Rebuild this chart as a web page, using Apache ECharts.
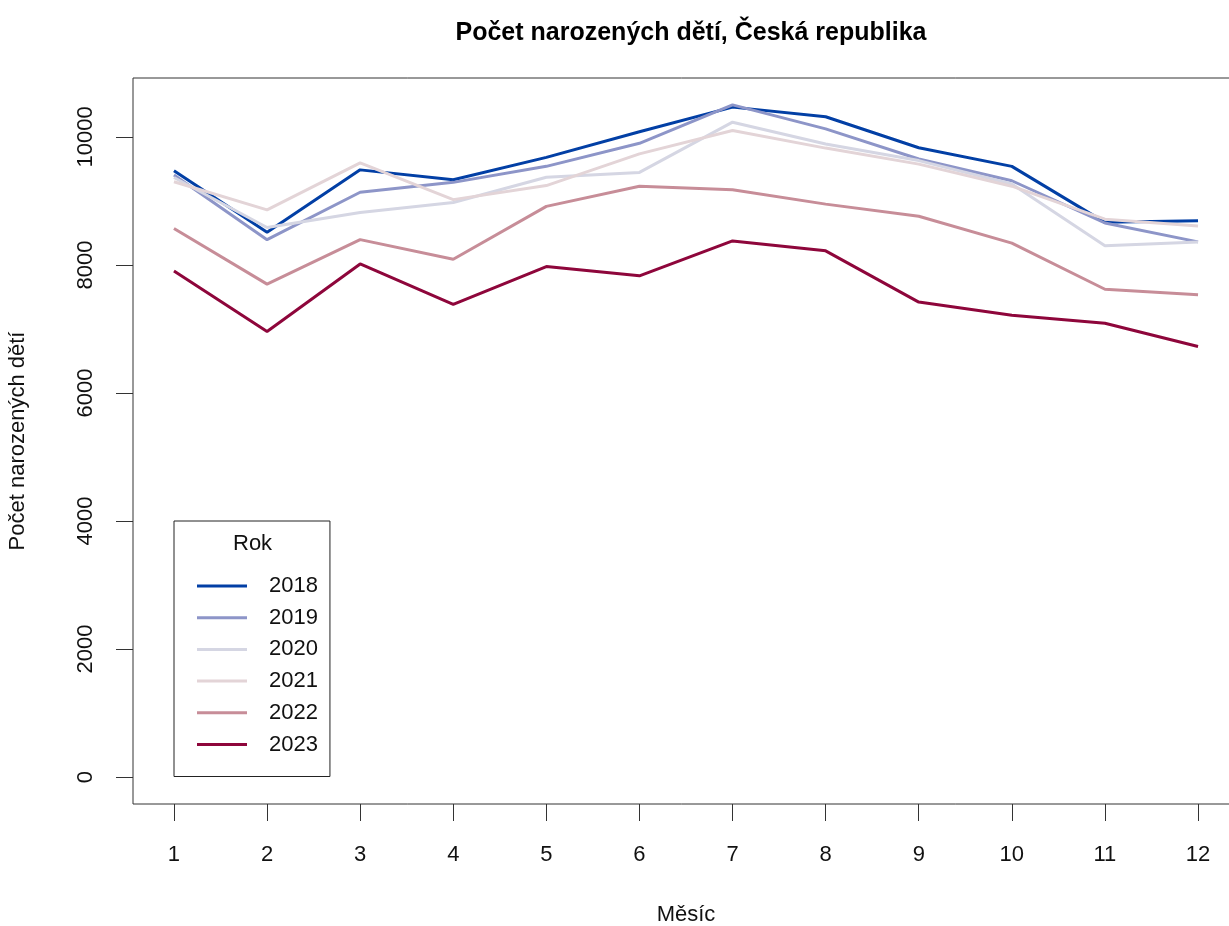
<!DOCTYPE html>
<html lang="cs">
<head>
<meta charset="UTF-8">
<title>Počet narozených dětí, Česká republika</title>
<style>
  html, body { margin: 0; padding: 0; background: #fff; }
  #container { width: 1229px; height: 926px; }
</style>
</head>
<body>
<div id="container"></div>
<script src="https://cdn.jsdelivr.net/npm/echarts@6/dist/echarts.min.js"></script>
<script>
// data
var months = [1, 2, 3, 4, 5, 6, 7, 8, 9, 10, 11, 12];
var years = ['2018', '2019', '2020', '2021', '2022', '2023'];
var births2018 = [9470, 8510, 9485, 9330, 9680, 10080, 10465, 10315, 9830, 9540, 8665, 8690];
var births2019 = [9405, 8395, 9135, 9290, 9540, 9900, 10500, 10125, 9655, 9315, 8655, 8360];
var births2020 = [9365, 8585, 8820, 8975, 9370, 9445, 10230, 9890, 9630, 9265, 8300, 8360];
var births2021 = [9300, 8860, 9595, 9020, 9240, 9735, 10100, 9825, 9575, 9230, 8715, 8610];
var births2022 = [8570, 7700, 8395, 8090, 8915, 9230, 9175, 8950, 8760, 8340, 7620, 7535];
var births2023 = [7905, 6960, 8015, 7385, 7975, 7830, 8375, 8220, 7420, 7215, 7090, 6725];
var yTicks = [0, 2000, 4000, 6000, 8000, 10000];
var colors = ['#023FA5', '#8D95C8', '#D5D6E3', '#E3D4D7', '#C78D98', '#8E063B'];

var allSeries = [births2018, births2019, births2020, births2021, births2022, births2023];
var fontFamily = "'Liberation Sans', Arial, sans-serif";

var chart = echarts.init(document.getElementById('container'));

var series = [];
for (var i = 0; i < years.length; i++) {
  var pts = [];
  for (var j = 0; j < months.length; j++) {
    pts.push([months[j], allSeries[i][j]]);
  }
  series.push({
    name: years[i],
    type: 'line',
    data: pts,
    symbol: 'none',
    lineStyle: { color: colors[i], width: 3 },
    itemStyle: { color: colors[i] },
    animation: false
  });
}

var option = {
  backgroundColor: '#fff',
  textStyle: { fontFamily: fontFamily },
  title: {
    text: 'Počet narozených dětí, Česká republika',
    left: 686,
    top: 16,
    textAlign: 'center',
    textStyle: { fontFamily: fontFamily, fontWeight: 'bold', fontSize: 25, color: '#000' }
  },
  legend: {
    data: years,
    orient: 'vertical',
    left: 174,
    top: 521,
    padding: [52, 12, 19, 23],
    borderColor: '#222',
    borderWidth: 1,
    icon: 'rect',
    itemWidth: 50,
    itemHeight: 3,
    itemGap: 5.7,
    textStyle: { fontFamily: fontFamily, fontSize: 22, lineHeight: 26, color: '#111', padding: [0, 0, 0, 17] }
  },
  graphic: [{
    type: 'text',
    left: 233,
    top: 533,
    style: { text: 'Rok', font: '22px ' + fontFamily, fill: '#111' }
  }],
  // the plot box runs past the right edge of the picture, as in the reference
  grid: {
    left: 133,
    width: 1106,
    top: 78,
    bottom: 122,
    outerBoundsMode: 'none',
    show: true,
    borderColor: '#333',
    borderWidth: 1,
    backgroundColor: 'transparent'
  },
  xAxis: {
    type: 'value',
    min: 0.56,
    max: 12.44,
    name: 'Měsíc',
    nameLocation: 'middle',
    nameGap: 100,
    nameTextStyle: { fontFamily: fontFamily, fontSize: 22, color: '#111' },
    axisLine: { show: false, onZero: false },
    axisTick: { show: true, inside: false, length: 17, customValues: months, lineStyle: { color: '#333' } },
    axisLabel: { customValues: months, margin: 40, fontSize: 22, color: '#111', fontFamily: fontFamily },
    splitLine: { show: false }
  },
  yAxis: {
    type: 'value',
    min: -420,
    max: 10920,
    name: 'Počet narozených dětí',
    nameLocation: 'middle',
    nameRotate: 90,
    nameGap: 104,
    nameTextStyle: { fontFamily: fontFamily, fontSize: 22, color: '#111' },
    axisLine: { show: false, onZero: false },
    axisTick: { show: true, inside: false, length: 17, customValues: yTicks, lineStyle: { color: '#333' } },
    axisLabel: {
      customValues: yTicks,
      rotate: 90,
      margin: 36,
      fontSize: 22,
      color: '#111',
      fontFamily: fontFamily,
      formatter: function (v) { return String(v); }
    },
    splitLine: { show: false }
  },
  series: series
};

chart.setOption(option);
</script>
</body>
</html>
